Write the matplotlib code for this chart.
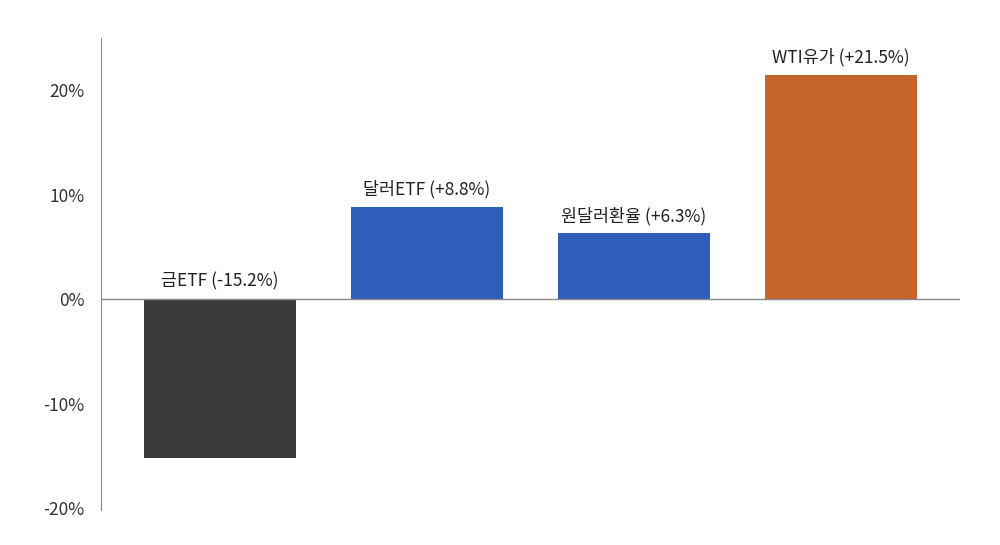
import matplotlib
matplotlib.use("Agg")
import matplotlib.pyplot as plt

plt.rcParams['font.family'] = ['Noto Sans CJK KR', 'DejaVu Sans']

categories = ['금ETF', '달러ETF', '원달러환율', 'WTI유가']
values = [-15.2, 8.8, 6.3, 21.5]
colors = ['#3b3b3b', '#2f5dba', '#2f5dba', '#c6652b']
yticks = [-20, -10, 0, 10, 20]
yticklabels = ['-20%', '-10%', '0%', '10%', '20%']

fig = plt.figure(figsize=(10, 5.45), dpi=100)
ax = fig.add_axes([0.101, 0.064, 0.859, 0.866])
x = range(len(categories))
ax.bar(x, values, width=0.735, color=colors, zorder=2)
for i, (c, v) in enumerate(zip(categories, values)):
    sign = '+' if v > 0 else ''
    y = max(v, 0)
    ax.text(i, y + 0.8, f'{c} ({sign}{v}%)', ha='center', va='bottom',
            fontsize=12.5, color='#222222')
ax.axhline(0, color='#888888', lw=1, zorder=3)
ax.set_xlim(-0.575, 3.575)
ax.set_ylim(-20.2, 25)
ax.set_yticks(yticks)
ax.set_yticklabels(yticklabels, fontsize=12.5, color='#333333')
ax.set_xticks([])
ax.tick_params(axis='y', length=0, pad=12)
for s in ['top', 'right', 'bottom']:
    ax.spines[s].set_visible(False)
ax.spines['left'].set_color('#888888')
fig.savefig('out.png', dpi=100)
